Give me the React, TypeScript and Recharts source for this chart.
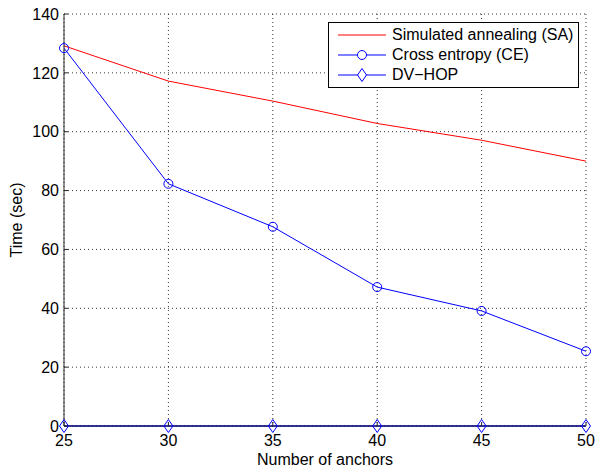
import React from "react";
import {
  LineChart,
  Line,
  XAxis,
  YAxis,
  CartesianGrid,
  Legend,
  Label,
} from "recharts";

const anchors = [25, 30, 35, 40, 45, 50];
const saTime = [129.2, 117.2, 110.4, 102.8, 97.1, 90.0];
const ceTime = [128.4, 82.3, 67.7, 47.2, 39.1, 25.4];
const dvhopTime = [0, 0, 0, 0, 0, 0];

const xTicks = [25, 30, 35, 40, 45, 50];
const yTicks = [0, 20, 40, 60, 80, 100, 120, 140];

const seriesNames = ["Simulated annealing (SA)", "Cross entropy (CE)", "DV\u2212HOP"];

const FONT = '"Liberation Sans", Arial, Helvetica, sans-serif';
const AXIS_COLOR = "#262626";

const data = anchors.map((a, i) => ({
  anchors: a,
  sa: saTime[i],
  ce: ceTime[i],
  dv: dvhopTime[i],
}));

const Diamond = (props: any) => {
  const { cx, cy } = props;
  if (cx == null || cy == null) return null;
  return (
    <path
      d={`M${cx},${cy - 6.5} L${cx + 4.5},${cy} L${cx},${cy + 6.5} L${cx - 4.5},${cy} Z`}
      fill="none"
      stroke="#0000ff"
      strokeWidth={1}
    />
  );
};

const Circle = (props: any) => {
  const { cx, cy } = props;
  if (cx == null || cy == null) return null;
  return <circle cx={cx} cy={cy} r={4.5} fill="none" stroke="#0000ff" strokeWidth={1} />;
};

function LegendBox() {
  const rows = [
    { color: "#ff0000", marker: "none" },
    { color: "#0000ff", marker: "circle" },
    { color: "#0000ff", marker: "diamond" },
  ];
  return (
    <div
      style={{
        width: 249,
        height: 62,
        border: "1px solid #000",
        background: "#fff",
        fontFamily: FONT,
        fontSize: 16,
        color: "#000",
        boxSizing: "content-box",
        paddingTop: 2,
      }}
    >
      {rows.map((r, i) => (
        <div key={i} style={{ display: "flex", alignItems: "center", height: 20 }}>
          <svg width={62} height={20} style={{ flex: "none" }}>
            <line x1={9} x2={57} y1={10} y2={10} stroke={r.color} strokeWidth={1} />
            {r.marker === "circle" && (
              <circle cx={33} cy={10} r={4.5} fill="#fff" stroke={r.color} />
            )}
            {r.marker === "diamond" && (
              <path d="M33,3.5 L37.5,10 L33,16.5 L28.5,10 Z" fill="#fff" stroke={r.color} />
            )}
          </svg>
          <span style={{ whiteSpace: "nowrap", marginLeft: 1 }}>{seriesNames[i]}</span>
        </div>
      ))}
    </div>
  );
}

export default function App() {
  return (
    <div style={{ position: "absolute", left: 0, top: 0, width: 595, height: 470, background: "#fff" }}>
      <LineChart
        width={595}
        height={470}
        data={data}
        margin={{ top: 14, right: 9, left: 0, bottom: 0 }}
        style={{ fontFamily: FONT }}
      >
        <CartesianGrid stroke="#333" strokeDasharray="1 3" horizontalValues={yTicks} verticalValues={xTicks} />
        <XAxis
          dataKey="anchors"
          type="number"
          domain={[25, 50]}
          ticks={xTicks}
          height={44}
          stroke={AXIS_COLOR}
          tickSize={-4}
          tickMargin={13}
          tick={{ fill: "#000", fontSize: 16 }}
        >
          <Label
            content={(p: any) => {
              const vb = p.viewBox || {};
              return (
                <text
                  x={vb.x + vb.width / 2}
                  y={465}
                  textAnchor="middle"
                  fontSize={16}
                  fontFamily={FONT}
                  fill="#000"
                >
                  Number of anchors
                </text>
              );
            }}
          />
        </XAxis>
        <YAxis
          type="number"
          domain={[0, 140]}
          ticks={yTicks}
          width={64}
          stroke={AXIS_COLOR}
          tickSize={-4}
          tickMargin={9}
          tick={{ fill: "#000", fontSize: 16 }}
        >
          <Label
            content={(p: any) => {
              const vb = p.viewBox || {};
              const cy = vb.y + vb.height / 2;
              return (
                <text
                  x={22}
                  y={cy}
                  transform={`rotate(-90, 22, ${cy})`}
                  textAnchor="middle"
                  fontSize={16}
                  fontFamily={FONT}
                  fill="#000"
                >
                  Time (sec)
                </text>
              );
            }}
          />
        </YAxis>
        <Legend
          layout="vertical"
          align="center"
          verticalAlign="middle"
          content={() => <LegendBox />}
          wrapperStyle={{ left: 328, top: 22, width: 251, height: 64 }}
        />
        <Line
          dataKey="sa"
          stroke="#ff0000"
          strokeWidth={1}
          dot={false}
          activeDot={false}
          isAnimationActive={false}
        />
        <Line
          dataKey="ce"
          stroke="#0000ff"
          strokeWidth={1}
          dot={<Circle />}
          activeDot={false}
          isAnimationActive={false}
        />
        <Line
          dataKey="dv"
          stroke="#0000ff"
          strokeWidth={1.5}
          dot={<Diamond />}
          activeDot={false}
          isAnimationActive={false}
        />
      </LineChart>
    </div>
  );
}
